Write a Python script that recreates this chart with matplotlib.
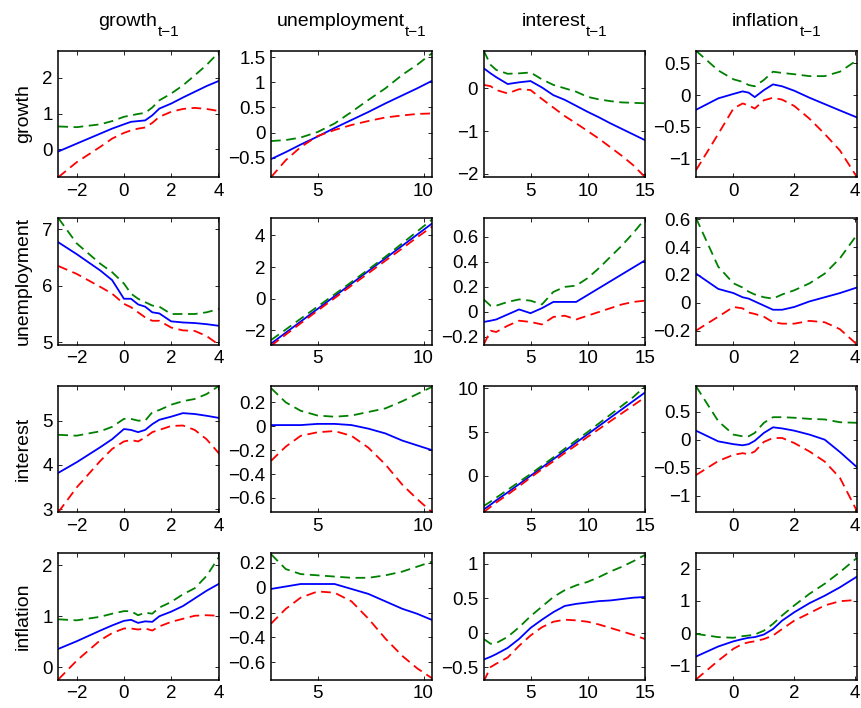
import matplotlib
matplotlib.use("Agg")
import matplotlib.pyplot as plt
from matplotlib.ticker import FuncFormatter, FixedLocator

plt.rcParams['font.family'] = ['Liberation Sans', 'DejaVu Sans']
plt.rcParams['lines.scale_dashes'] = False

# ---------------- data ----------------
variables = ["growth", "unemployment", "interest", "inflation"]
lag_label = "t\u22121"

# x grids (lagged predictor values), one per column
x_growth = [-2.78, -2, -1, -0.5, 0, 0.3, 0.6, 0.9, 1.2, 1.5, 2, 2.5, 3, 3.5, 4.04]
x_unemp = [2.8, 3.5, 4.2, 5, 5.8, 6.6, 7.4, 8.2, 9, 9.7, 10.4]
x_interest = [0.9, 1.5, 2, 3, 4, 5, 6, 7, 8, 9, 10, 11, 12, 13, 14, 15]
x_inflation = [-1.23, -0.5, 0, 0.3, 0.5, 0.7, 1.0, 1.3, 1.6, 2, 2.5, 3, 3.5, 4.06]

# response: growth
est_growth_growth = [-0.06, 0.16, 0.44, 0.58, 0.70, 0.77, 0.79, 0.81, 0.95, 1.14, 1.28, 1.45, 1.61, 1.77, 1.92]
hi_growth_growth = [0.64, 0.62, 0.70, 0.79, 0.91, 0.95, 0.99, 1.02, 1.17, 1.37, 1.56, 1.79, 2.07, 2.36, 2.73]
lo_growth_growth = [-0.78, -0.36, 0.07, 0.30, 0.46, 0.53, 0.58, 0.61, 0.74, 0.91, 1.05, 1.13, 1.16, 1.13, 1.07]

est_growth_unemp = [-0.53, -0.39, -0.24, -0.08, 0.09, 0.25, 0.41, 0.58, 0.74, 0.88, 1.03]
hi_growth_unemp = [-0.17, -0.15, -0.10, 0.01, 0.18, 0.41, 0.65, 0.88, 1.15, 1.35, 1.58]
lo_growth_unemp = [-0.89, -0.55, -0.29, -0.07, 0.05, 0.15, 0.23, 0.30, 0.34, 0.37, 0.38]

est_growth_interest = [0.47, 0.35, 0.26, 0.10, 0.14, 0.17, 0.02, -0.16, -0.27, -0.41, -0.55, -0.68, -0.82, -0.95, -1.08, -1.21]
hi_growth_interest = [0.88, 0.55, 0.43, 0.34, 0.35, 0.37, 0.21, 0.08, 0.0, -0.08, -0.20, -0.26, -0.30, -0.33, -0.34, -0.35]
lo_growth_interest = [0.08, 0.05, -0.04, -0.12, -0.02, -0.04, -0.25, -0.45, -0.65, -0.82, -1.0, -1.18, -1.38, -1.58, -1.80, -2.07]

est_growth_inflation = [-0.23, -0.05, 0.02, 0.06, 0.04, -0.03, 0.08, 0.17, 0.14, 0.07, -0.04, -0.14, -0.24, -0.35]
hi_growth_inflation = [0.70, 0.39, 0.25, 0.21, 0.16, 0.14, 0.24, 0.37, 0.35, 0.33, 0.30, 0.30, 0.37, 0.55]
lo_growth_inflation = [-1.18, -0.61, -0.21, -0.13, -0.16, -0.21, -0.08, -0.04, -0.07, -0.17, -0.37, -0.61, -0.87, -1.29]

# response: unemployment
est_unemp_growth = [6.77, 6.56, 6.27, 6.10, 5.77, 5.77, 5.67, 5.63, 5.53, 5.51, 5.37, 5.35, 5.34, 5.32, 5.29]
hi_unemp_growth = [7.20, 6.75, 6.39, 6.24, 6.04, 5.86, 5.77, 5.71, 5.65, 5.63, 5.50, 5.50, 5.50, 5.53, 5.59]
lo_unemp_growth = [6.35, 6.21, 5.98, 5.86, 5.68, 5.62, 5.53, 5.44, 5.38, 5.38, 5.26, 5.21, 5.20, 5.11, 4.95]

est_unemp_unemp = [-2.85, -2.15, -1.45, -0.65, 0.15, 0.95, 1.75, 2.55, 3.35, 4.05, 4.75]
hi_unemp_unemp = [-2.62, -1.95, -1.27, -0.50, 0.27, 1.05, 1.85, 2.65, 3.50, 4.25, 5.00]
lo_unemp_unemp = [-2.98, -2.27, -1.56, -0.76, 0.03, 0.83, 1.61, 2.40, 3.18, 3.88, 4.55]

est_unemp_interest = [-0.08, -0.07, -0.06, -0.02, 0.02, -0.01, 0.03, 0.08, 0.08, 0.08, 0.135, 0.19, 0.245, 0.30, 0.355, 0.41]
hi_unemp_interest = [0.10, 0.05, 0.05, 0.08, 0.10, 0.09, 0.06, 0.16, 0.20, 0.21, 0.27, 0.35, 0.44, 0.53, 0.63, 0.74]
lo_unemp_interest = [-0.26, -0.15, -0.16, -0.11, -0.07, -0.08, -0.10, -0.04, -0.03, -0.06, -0.03, 0.0, 0.03, 0.06, 0.08, 0.09]

est_unemp_inflation = [0.21, 0.10, 0.07, 0.04, 0.03, 0.01, -0.02, -0.05, -0.05, -0.03, 0.01, 0.04, 0.07, 0.11]
hi_unemp_inflation = [0.61, 0.26, 0.14, 0.11, 0.08, 0.06, 0.04, 0.03, 0.06, 0.09, 0.14, 0.21, 0.32, 0.49]
lo_unemp_inflation = [-0.20, -0.10, -0.03, -0.04, -0.07, -0.08, -0.10, -0.14, -0.15, -0.15, -0.13, -0.14, -0.19, -0.30]

# response: interest
est_interest_growth = [3.82, 4.06, 4.40, 4.58, 4.81, 4.79, 4.74, 4.79, 4.92, 5.02, 5.09, 5.17, 5.15, 5.11, 5.06]
hi_interest_growth = [4.68, 4.66, 4.76, 4.86, 5.04, 5.04, 5.00, 5.00, 5.19, 5.24, 5.36, 5.44, 5.49, 5.60, 5.79]
lo_interest_growth = [2.93, 3.49, 4.09, 4.36, 4.53, 4.56, 4.53, 4.62, 4.74, 4.79, 4.88, 4.89, 4.79, 4.58, 4.25]

est_interest_unemp = [0.01, 0.01, 0.01, 0.02, 0.02, 0.01, -0.02, -0.06, -0.12, -0.16, -0.20]
hi_interest_unemp = [0.32, 0.20, 0.13, 0.09, 0.08, 0.09, 0.12, 0.15, 0.21, 0.27, 0.33]
lo_interest_unemp = [-0.29, -0.17, -0.08, -0.05, -0.04, -0.08, -0.18, -0.32, -0.49, -0.61, -0.72]

est_interest_interest = [-3.85, -3.3, -2.8, -1.9, -0.95, 0.0, 0.95, 1.9, 2.85, 3.8, 4.75, 5.7, 6.65, 7.6, 8.55, 9.5]
hi_interest_interest = [-3.45, -2.95, -2.5, -1.6, -0.7, 0.2, 1.15, 2.1, 3.1, 4.05, 5.0, 6.0, 7.0, 8.0, 9.0, 10.2]
lo_interest_interest = [-4.15, -3.55, -3.05, -2.15, -1.2, -0.2, 0.75, 1.65, 2.6, 3.5, 4.45, 5.35, 6.25, 7.15, 8.05, 8.95]

est_interest_inflation = [0.16, -0.03, -0.08, -0.10, -0.08, -0.02, 0.12, 0.22, 0.20, 0.16, 0.09, 0.0, -0.22, -0.49]
hi_interest_inflation = [0.95, 0.33, 0.09, 0.06, 0.06, 0.12, 0.30, 0.40, 0.40, 0.39, 0.37, 0.36, 0.31, 0.30]
lo_interest_inflation = [-0.63, -0.38, -0.27, -0.24, -0.26, -0.21, -0.04, 0.03, 0.03, -0.06, -0.21, -0.39, -0.68, -1.27]

# response: inflation
est_inflation_growth = [0.36, 0.51, 0.72, 0.82, 0.91, 0.93, 0.87, 0.90, 0.89, 1.00, 1.09, 1.20, 1.35, 1.50, 1.64]
hi_inflation_growth = [0.94, 0.92, 0.99, 1.05, 1.10, 1.10, 1.02, 1.07, 1.05, 1.17, 1.28, 1.43, 1.55, 1.79, 2.17]
lo_inflation_growth = [-0.24, 0.13, 0.53, 0.67, 0.76, 0.76, 0.74, 0.76, 0.72, 0.80, 0.89, 0.95, 1.01, 1.02, 1.01]

est_inflation_unemp = [-0.01, 0.01, 0.03, 0.03, 0.03, -0.01, -0.05, -0.11, -0.17, -0.21, -0.26]
hi_inflation_unemp = [0.27, 0.15, 0.11, 0.10, 0.09, 0.08, 0.08, 0.10, 0.13, 0.17, 0.21]
lo_inflation_unemp = [-0.29, -0.17, -0.08, -0.03, -0.04, -0.11, -0.25, -0.41, -0.55, -0.65, -0.73]

est_inflation_interest = [-0.39, -0.35, -0.31, -0.22, -0.09, 0.07, 0.19, 0.30, 0.39, 0.42, 0.44, 0.46, 0.47, 0.49, 0.51, 0.52]
hi_inflation_interest = [-0.09, -0.16, -0.15, -0.06, 0.08, 0.24, 0.38, 0.52, 0.62, 0.69, 0.74, 0.81, 0.89, 0.96, 1.04, 1.13]
lo_inflation_interest = [-0.71, -0.50, -0.45, -0.36, -0.19, -0.04, 0.08, 0.16, 0.19, 0.18, 0.16, 0.12, 0.07, 0.02, -0.03, -0.09]

est_inflation_inflation = [-0.72, -0.41, -0.25, -0.18, -0.14, -0.12, -0.04, 0.13, 0.39, 0.65, 0.93, 1.16, 1.42, 1.75]
hi_inflation_inflation = [-0.02, -0.12, -0.14, -0.09, -0.07, -0.04, 0.08, 0.29, 0.55, 0.86, 1.22, 1.53, 1.89, 2.33]
lo_inflation_inflation = [-1.43, -0.85, -0.48, -0.33, -0.28, -0.25, -0.18, -0.07, 0.13, 0.39, 0.62, 0.86, 0.99, 1.03]

# axis limits and ticks
xlims = [(-2.78, 4.04), (2.8, 10.4), (0.9, 15.0), (-1.23, 4.06)]
xticks = [[-2, 0, 2, 4], [5, 10], [5, 10, 15], [0, 2, 4]]
ylims = [
    [(-0.78, 2.76), (-0.89, 1.63), (-2.08, 0.88), (-1.29, 0.70)],
    [(4.96, 7.20), (-2.9, 5.1), (-0.26, 0.75), (-0.30, 0.61)],
    [(2.93, 5.79), (-0.72, 0.34), (-4.16, 10.3), (-1.29, 0.96)],
    [(-0.24, 2.24), (-0.74, 0.28), (-0.68, 1.16), (-1.43, 2.48)],
]
yticks = [
    [[0, 1, 2], [-0.5, 0, 0.5, 1, 1.5], [-2, -1, 0], [-1, -0.5, 0, 0.5]],
    [[5, 6, 7], [-2, 0, 2, 4], [-0.2, 0, 0.2, 0.4, 0.6], [-0.2, 0, 0.2, 0.4, 0.6]],
    [[3, 4, 5], [-0.6, -0.4, -0.2, 0, 0.2], [0, 5, 10], [-1, -0.5, 0, 0.5]],
    [[0, 1, 2], [-0.6, -0.4, -0.2, 0, 0.2], [-0.5, 0, 0.5, 1], [-1, 0, 1, 2]],
]

xs = [x_growth, x_unemp, x_interest, x_inflation]
est = [
    [est_growth_growth, est_growth_unemp, est_growth_interest, est_growth_inflation],
    [est_unemp_growth, est_unemp_unemp, est_unemp_interest, est_unemp_inflation],
    [est_interest_growth, est_interest_unemp, est_interest_interest, est_interest_inflation],
    [est_inflation_growth, est_inflation_unemp, est_inflation_interest, est_inflation_inflation],
]
his = [
    [hi_growth_growth, hi_growth_unemp, hi_growth_interest, hi_growth_inflation],
    [hi_unemp_growth, hi_unemp_unemp, hi_unemp_interest, hi_unemp_inflation],
    [hi_interest_growth, hi_interest_unemp, hi_interest_interest, hi_interest_inflation],
    [hi_inflation_growth, hi_inflation_unemp, hi_inflation_interest, hi_inflation_inflation],
]
los = [
    [lo_growth_growth, lo_growth_unemp, lo_growth_interest, lo_growth_inflation],
    [lo_unemp_growth, lo_unemp_unemp, lo_unemp_interest, lo_unemp_inflation],
    [lo_interest_growth, lo_interest_unemp, lo_interest_interest, lo_interest_inflation],
    [lo_inflation_growth, lo_inflation_unemp, lo_inflation_interest, lo_inflation_inflation],
]

# ---------------- figure ----------------
W, H = 862, 708
fig = plt.figure(figsize=(W / 100, H / 100), dpi=100)

col_left = [58.3, 271.0, 483.7, 696.0]
row_top = [50.7, 218.0, 385.7, 553.0]
aw, ah = 161.0, 126.5


def fmt(v, pos):
    s = "%g" % v
    return s.replace("-", "\u2212")


FS = 13.5
TITLE_FS = 14
SUB_FS = 11
renderer = fig.canvas.get_renderer()

for r in range(4):
    for c in range(4):
        ax = fig.add_axes([col_left[c] / W, 1 - (row_top[r] + ah) / H, aw / W, ah / H])
        x = xs[c]
        ax.plot(x, est[r][c], color=(0, 0, 1), lw=1.3, solid_joinstyle='round')
        ax.plot(x, his[r][c], color=(0, 0.5, 0), lw=1.3, linestyle=(0, (7, 4)))
        ax.plot(x, los[r][c], color=(1, 0, 0), lw=1.3, linestyle=(0, (7, 4)))
        ax.set_xlim(*xlims[c])
        ax.set_ylim(*ylims[r][c])
        ax.xaxis.set_major_locator(FixedLocator(xticks[c]))
        ax.yaxis.set_major_locator(FixedLocator(yticks[r][c]))
        ax.xaxis.set_major_formatter(FuncFormatter(fmt))
        ax.yaxis.set_major_formatter(FuncFormatter(fmt))
        ax.tick_params(direction='in', top=True, right=True, length=3, width=0.6,
                       labelsize=FS, pad=4, colors='black')
        for sp in ax.spines.values():
            sp.set_linewidth(1.1)
        if c == 0:
            fig.text(23.5 / W, 1 - (row_top[r] + ah / 2) / H, variables[r],
                     rotation=90, ha='center', va='center', fontsize=TITLE_FS)

# column titles: word with a lowered, smaller "t-1" subscript
for c in range(4):
    main = fig.text(0, 0, variables[c], fontsize=TITLE_FS, ha='left', va='baseline')
    sub = fig.text(0, 0, lag_label, fontsize=SUB_FS, ha='left', va='baseline')
    wm = main.get_window_extent(renderer).width
    ws = sub.get_window_extent(renderer).width
    gap = 0
    center = col_left[c] + aw / 2
    x0 = center - (wm + gap + ws) / 2
    main.set_position((x0 / W, 1 - 26.5 / H))
    sub.set_position(((x0 + wm + gap) / W, 1 - 36.5 / H))

fig.savefig("out.png", dpi=100)
